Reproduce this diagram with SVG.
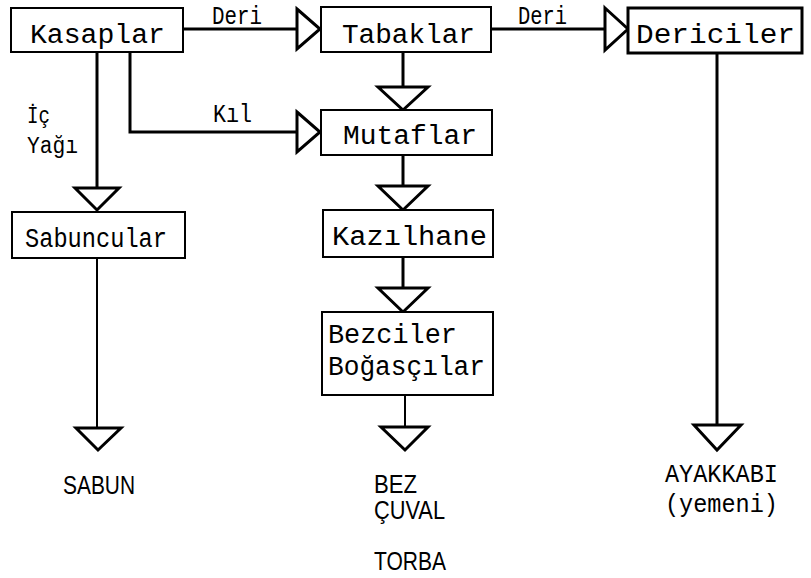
<svg xmlns="http://www.w3.org/2000/svg" width="811" height="578" viewBox="0 0 811 578">
<style>
.box{fill:#fff;stroke:#000;stroke-width:2}
.ln{fill:none;stroke:#000;stroke-width:3}
.tn{fill:none;stroke:#000;stroke-width:2}
.tri{fill:#fff;stroke:#000;stroke-width:3;stroke-linejoin:miter}
.t{font-family:"Liberation Mono","DejaVu Sans Mono",monospace;font-size:27px;fill:#000}
.l{font-family:"Liberation Mono","DejaVu Sans Mono",monospace;font-size:25px;fill:#000}
.o{font-family:"Liberation Sans","DejaVu Sans",sans-serif;font-size:25px;fill:#000}
</style>
<rect width="811" height="578" fill="#fff"/>
<g id="connectors">
<line class="ln" x1="183" y1="29" x2="297" y2="29"/>
<line class="ln" x1="491" y1="29" x2="605" y2="29"/>
<line class="ln" x1="97" y1="52" x2="97" y2="188"/>
<polyline class="ln" points="130,52 130,132 297,132"/>
<line class="ln" x1="403" y1="52" x2="403" y2="87"/>
<line class="ln" x1="403" y1="155" x2="403" y2="186"/>
<line class="ln" x1="403" y1="257" x2="403" y2="288"/>
<line class="tn" x1="405" y1="395" x2="405" y2="427"/>
<line class="tn" x1="97" y1="258" x2="97" y2="428"/>
<line class="ln" x1="717" y1="53" x2="717" y2="425"/>
<polygon class="tri" points="297,9 320,29 297,49"/>
<polygon class="tri" points="605,8 628,29 605,50"/>
<polygon class="tri" points="297,112 320,132 297,152"/>
<polygon class="tri" points="378,87 428,87 403,110"/>
<polygon class="tri" points="378,186 428,186 403,210"/>
<polygon class="tri" points="378,288 428,288 403,312"/>
<polygon class="tri" points="75,188 119,188 97,210"/>
<polygon class="tri" points="76,428 121,428 98,450"/>
<polygon class="tri" points="381,427 428,427 405,450"/>
<polygon class="tri" points="694,425 741,425 717,450"/>
<text class="l" x="212" y="24" textLength="50" lengthAdjust="spacingAndGlyphs">Deri</text>
<text class="l" x="518" y="24" textLength="49" lengthAdjust="spacingAndGlyphs">Deri</text>
<text class="l" x="213" y="122" textLength="39" lengthAdjust="spacingAndGlyphs">Kıl</text>
<text class="l" x="27" y="123" textLength="23" lengthAdjust="spacingAndGlyphs" style="font-size:23px">İç</text>
<text class="l" x="27" y="153" textLength="51" lengthAdjust="spacingAndGlyphs" style="font-size:23px">Yağı</text>
</g>
<g id="kasaplar"><rect class="box" x="11" y="8" width="172" height="44"/><text class="t" x="30" y="43" textLength="135" lengthAdjust="spacingAndGlyphs">Kasaplar</text></g>
<g id="tabaklar"><rect class="box" x="321" y="7" width="170" height="45"/><text class="t" x="342" y="43" textLength="133" lengthAdjust="spacingAndGlyphs">Tabaklar</text></g>
<g id="dericiler"><rect class="box" x="628" y="8" width="174" height="45" style="stroke-width:3"/><text class="t" x="636" y="43" textLength="159" lengthAdjust="spacingAndGlyphs">Dericiler</text></g>
<g id="mutaflar"><rect class="box" x="321" y="110" width="171" height="45"/><text class="t" x="343" y="144" textLength="134" lengthAdjust="spacingAndGlyphs">Mutaflar</text></g>
<g id="sabuncular"><rect class="box" x="12" y="212" width="173" height="46"/><text class="t" x="25" y="247" textLength="142" lengthAdjust="spacingAndGlyphs">Sabuncular</text></g>
<g id="kazilhane"><rect class="box" x="323" y="210" width="170" height="47"/><text class="t" x="332" y="245" textLength="155" lengthAdjust="spacingAndGlyphs">Kazılhane</text></g>
<g id="bezciler"><rect class="box" x="322" y="312" width="171" height="83"/><text class="t" x="328" y="343" textLength="129" lengthAdjust="spacingAndGlyphs">Bezciler</text><text class="t" x="328" y="375" textLength="157" lengthAdjust="spacingAndGlyphs">Boğasçılar</text></g>
<g id="sabun"><text class="o" x="63" y="494" textLength="72" lengthAdjust="spacingAndGlyphs">SABUN</text></g>
<g id="bez"><text class="o" x="374" y="493" textLength="43" lengthAdjust="spacingAndGlyphs">BEZ</text><text class="o" x="374" y="519" textLength="71" lengthAdjust="spacingAndGlyphs">ÇUVAL</text><text class="o" x="374" y="570" textLength="72" lengthAdjust="spacingAndGlyphs">TORBA</text></g>
<g id="ayakkabi"><text class="t" x="665" y="482" textLength="113" lengthAdjust="spacingAndGlyphs" style="font-size:26px">AYAKKABI</text><text class="t" x="665" y="512" textLength="113" lengthAdjust="spacingAndGlyphs" style="font-size:26px">(yemeni)</text></g>
</svg>
